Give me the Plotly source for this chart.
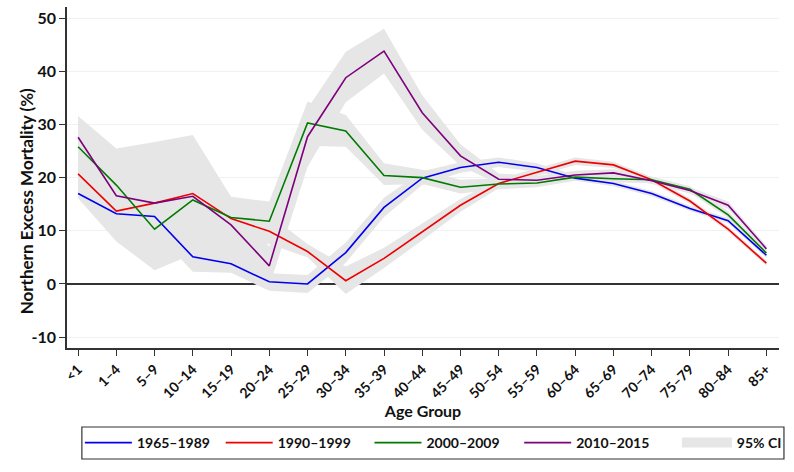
import plotly.graph_objects as go

age_groups = ["<1", "1–4", "5–9", "10–14", "15–19", "20–24", "25–29", "30–34", "35–39",
              "40–44", "45–49", "50–54", "55–59", "60–64", "65–69", "70–74", "75–79", "80–84", "85+"]

series_names = ["1965–1989", "1990–1999", "2000–2009", "2010–2015"]
series_colors = ["#0000ee", "#ee0000", "#007a00", "#7d007d"]

v_1965_1989 = [17.0, 13.2, 12.7, 5.1, 3.8, 0.4, 0.0, 5.9, 14.4, 19.9, 21.9, 22.9, 21.9, 19.9, 18.9, 17.0, 14.2, 11.9, 5.4]
v_1990_1999 = [20.7, 13.7, 15.2, 17.0, 12.3, 9.9, 6.1, 0.6, 4.8, 9.8, 14.8, 18.9, 21.0, 23.1, 22.4, 19.6, 15.6, 10.3, 3.9]
v_2000_2009 = [25.8, 18.6, 10.3, 15.8, 12.5, 11.8, 30.3, 28.8, 20.4, 20.0, 18.2, 18.8, 19.0, 20.1, 19.8, 19.6, 17.8, 13.0, 5.8]
v_2010_2015 = [27.6, 16.6, 15.2, 16.5, 11.1, 3.4, 27.7, 38.8, 43.8, 32.2, 24.1, 19.7, 19.5, 20.5, 20.9, 19.4, 17.6, 14.8, 6.6]

lo_1965_1989 = [16.1, 12.0, 10.0, 2.3, 2.1, -1.3, -1.7, 4.0, 12.6, 18.6, 20.9, 22.0, 21.1, 19.4, 18.4, 16.5, 13.7, 11.4, 4.9]
hi_1965_1989 = [18.5, 14.5, 14.5, 7.5, 5.5, 2.0, 1.7, 7.8, 16.2, 21.2, 22.9, 23.8, 22.7, 20.5, 19.4, 17.5, 14.7, 12.4, 5.9]
lo_1990_1999 = [17.5, 10.5, 12.0, 13.0, 9.0, 7.5, 5.0, -1.9, 3.0, 8.2, 13.6, 18.0, 20.3, 22.4, 21.8, 19.1, 15.1, 9.8, 3.4]
hi_1990_1999 = [24.0, 17.0, 19.0, 21.0, 15.5, 13.0, 7.5, 3.3, 6.8, 11.4, 16.0, 19.8, 21.7, 23.8, 23.0, 20.1, 16.1, 10.8, 4.4]
lo_2000_2009 = [16.1, 8.0, 2.6, 5.6, 8.0, 8.2, 26.0, 25.8, 18.6, 18.8, 17.0, 17.8, 18.2, 19.4, 19.1, 19.0, 17.2, 12.4, 5.3]
hi_2000_2009 = [30.5, 25.0, 18.0, 26.0, 16.4, 15.5, 34.3, 31.8, 22.7, 21.5, 19.6, 19.9, 19.8, 20.8, 20.5, 20.2, 18.4, 13.7, 6.3]
lo_2010_2015 = [23.5, 9.0, 5.0, 5.0, 4.0, -0.5, 22.0, 34.2, 39.6, 29.0, 22.2, 18.8, 18.7, 19.8, 20.2, 18.8, 17.0, 14.1, 6.0]
hi_2010_2015 = [31.6, 25.5, 26.7, 28.0, 16.4, 7.0, 33.0, 43.7, 48.0, 35.5, 26.3, 20.8, 20.3, 21.3, 21.6, 20.0, 18.2, 15.5, 7.2]

y_ticks = [-10, 0, 10, 20, 30, 40, 50]
y_tick_labels = ["-10", "0", "10", "20", "30", "40", "50"]

values = [v_1965_1989, v_1990_1999, v_2000_2009, v_2010_2015]
lows = [lo_1965_1989, lo_1990_1999, lo_2000_2009, lo_2010_2015]
highs = [hi_1965_1989, hi_1990_1999, hi_2000_2009, hi_2010_2015]

x = list(range(len(age_groups)))
band_color = "#e6e6e6"
FONT = "Lato"

W, H = 794, 472
ML, MR, MT, MB = 67, 9, 7, 124
PW, PH = W - ML - MR, H - MT - MB


def px_x(p):
    return (p - ML) / PW


def px_y(p):
    return (H - MB - p) / PH


legend_ids = ["legend", "legend2", "legend3", "legend4", "legend5"]
legend_left_px = [80, 222, 372, 523, 682]
legend_item_w = [47, 47, 47, 47, 50]

fig = go.Figure()

for k, (lo, hi) in enumerate(zip(lows, highs)):
    fig.add_trace(go.Scatter(
        x=x + x[::-1], y=hi + lo[::-1], fill="toself", fillcolor=band_color,
        line=dict(width=0, color=band_color), mode="lines",
        name="95% CI", showlegend=False, hoverinfo="skip"))

# legend swatch for the confidence bands
fig.add_trace(go.Scatter(
    x=[None], y=[None], mode="lines", name="95% CI",
    line=dict(color=band_color, width=19), legend=legend_ids[4], hoverinfo="skip"))

for k, (name, vals, col) in enumerate(zip(series_names, values, series_colors)):
    fig.add_trace(go.Scatter(
        x=x, y=vals, mode="lines", name=name, line=dict(color=col, width=1.6),
        legend=legend_ids[k]))

legend_font = dict(family=FONT, size=14, color="#111111", weight="bold")
legend_layout = {}
for lid, lx, iw in zip(legend_ids, legend_left_px, legend_item_w):
    legend_layout[lid] = dict(
        orientation="h", x=px_x(lx), xanchor="left", y=px_y(443), yanchor="middle",
        borderwidth=0, bgcolor="rgba(0,0,0,0)", font=legend_font, itemwidth=iw,
    )

fig.update_layout(
    width=W, height=H,
    margin=dict(l=ML, r=MR, t=MT, b=MB),
    paper_bgcolor="white", plot_bgcolor="white",
    font=dict(family=FONT, color="#111111"),
    showlegend=True,
    shapes=[dict(type="rect", xref="paper", yref="paper",
                 x0=px_x(82), x1=px_x(790), y0=px_y(427), y1=px_y(459),
                 line=dict(color="#333333", width=1.2), fillcolor="rgba(0,0,0,0)", layer="below")],
    annotations=[dict(text="Northern Excess Mortality (%)", xref="paper", yref="paper",
                      x=px_x(27), y=px_y(201), xanchor="center", yanchor="middle",
                      textangle=-90, showarrow=False,
                      font=dict(family=FONT, size=17, color="#111111", weight="bold"))],
    **legend_layout,
)

fig.update_xaxes(
    range=[-0.29, 18.33], tickmode="array", tickvals=x, ticktext=age_groups,
    tickangle=-45, showline=True, linecolor="#333333", linewidth=1.5,
    ticks="outside", ticklen=6, tickcolor="#333333", tickwidth=1.2,
    showgrid=False, zeroline=False, automargin=False,
    tickfont=dict(family=FONT, size=14, color="#111111", weight="bold"),
    title=dict(text="Age Group", standoff=4,
               font=dict(family=FONT, size=16, color="#111111", weight="bold")),
)

fig.update_yaxes(
    range=[-12.05, 52.1], tickmode="array", tickvals=y_ticks, ticktext=y_tick_labels,
    showline=True, linecolor="#333333", linewidth=1.5,
    ticks="outside", ticklen=6, tickcolor="#333333", tickwidth=1.2,
    showgrid=True, gridcolor="#eef2f2", gridwidth=1,
    zeroline=True, zerolinecolor="#333333", zerolinewidth=1.5, automargin=False,
    tickfont=dict(family=FONT, size=16, color="#111111", weight="bold"),
)

fig.write_html("out.html", config={"displayModeBar": False},
               post_script="document.body.style.margin='0';")
